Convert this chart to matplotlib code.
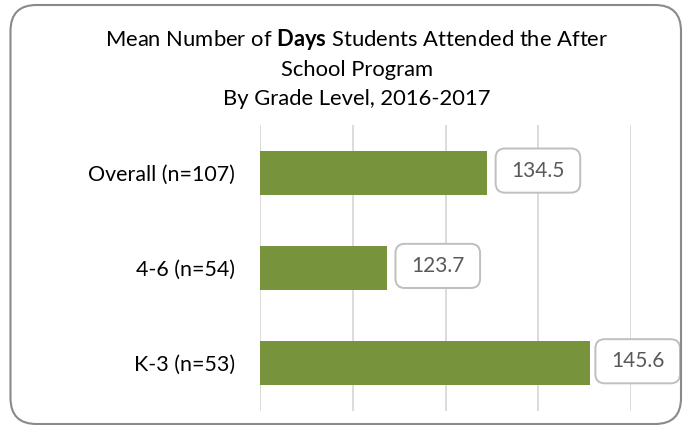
import matplotlib
matplotlib.use("Agg")
import matplotlib.pyplot as plt
from matplotlib.patches import FancyBboxPatch, BoxStyle

categories = ["K-3 (n=53)", "4-6 (n=54)", "Overall (n=107)"]
values = [145.6, 123.7, 134.5]
value_labels = ["145.6", "123.7", "134.5"]
x_ticks = [110, 120, 130, 140, 150]

FONT = "Lato"
plt.rcParams["font.family"] = [FONT, "DejaVu Sans"]
plt.rcParams["mathtext.fontset"] = "custom"
plt.rcParams["mathtext.rm"] = FONT
plt.rcParams["mathtext.bf"] = FONT + ":bold"


class WideRound(BoxStyle.Round):
    """Rounded box with extra horizontal padding."""
    def __init__(self, pad=0.3, rounding_size=None, hext=0.3):
        super().__init__(pad=pad, rounding_size=rounding_size)
        self.hext = hext

    def __call__(self, x0, y0, width, height, mutation_size):
        ext = self.hext * mutation_size
        return super().__call__(x0 - ext, y0, width + 2 * ext, height, mutation_size)


W, H = 686, 425
DPI = 100
fig = plt.figure(figsize=(W / DPI, H / DPI), dpi=DPI)
fig.patch.set_facecolor("white")

# rounded chart border (inches)
border = FancyBboxPatch((0.105, 0.01), 6.705, 4.19,
                        boxstyle="round,pad=0,rounding_size=0.26",
                        transform=fig.dpi_scale_trans, facecolor="none",
                        edgecolor="#8a8a8a", linewidth=1.5)
fig.patches.append(border)

ax = fig.add_axes([260 / W, 14 / H, 371 / W, 286 / H])
ax.set_xlim(x_ticks[0], x_ticks[-1])
ax.set_ylim(-0.5, len(categories) - 0.5)
ax.set_xticks(x_ticks)
ax.tick_params(axis="x", length=0, labelbottom=False)
ax.tick_params(axis="y", length=0, pad=18, labelsize=15.4, labelcolor="#000000")
ax.set_yticks(range(len(categories)))
ax.set_yticklabels(categories)
ax.grid(axis="x", color="#d9d9d9", linewidth=1.3)
ax.set_axisbelow(True)
for s in ax.spines.values():
    s.set_visible(False)

ax.barh(range(len(categories)), [v - x_ticks[0] for v in values], left=x_ticks[0],
        height=0.46, color="#77933c", zorder=2)

anns = []
for i, (v, lab) in enumerate(zip(values, value_labels)):
    a = ax.annotate(lab, xy=(v, i), xytext=(36.5, 1.5), textcoords="offset points",
                    ha="center", va="center", fontsize=15, color="#595959",
                    annotation_clip=False,
                    bbox=dict(boxstyle=WideRound(pad=0.58, rounding_size=0.45, hext=0.17),
                              facecolor="white", edgecolor="#bfbfbf", linewidth=1.4),
                    zorder=5)
    anns.append(a)

title_kw = dict(ha="center", va="center", fontsize=15.8)
fig.text(357 / W, 1 - 40 / H,
         "Mean Number of $\\mathbf{Days}$ Students Attended the After", **title_kw)
fig.text(357 / W, 1 - 70 / H, "School Program", **title_kw)
fig.text(357 / W, 1 - 99 / H, "By Grade Level, 2016-2017", **title_kw)

# keep labels inside the chart border (like Excel does)
fig.canvas.draw()
limit = 680
for a in anns:
    ext = a.get_bbox_patch().get_window_extent()
    if ext.x1 > limit:
        dx, dy = a.xyann
        a.xyann = (dx - (ext.x1 - limit) * 72 / DPI, dy)

fig.savefig("out.png", dpi=DPI)
